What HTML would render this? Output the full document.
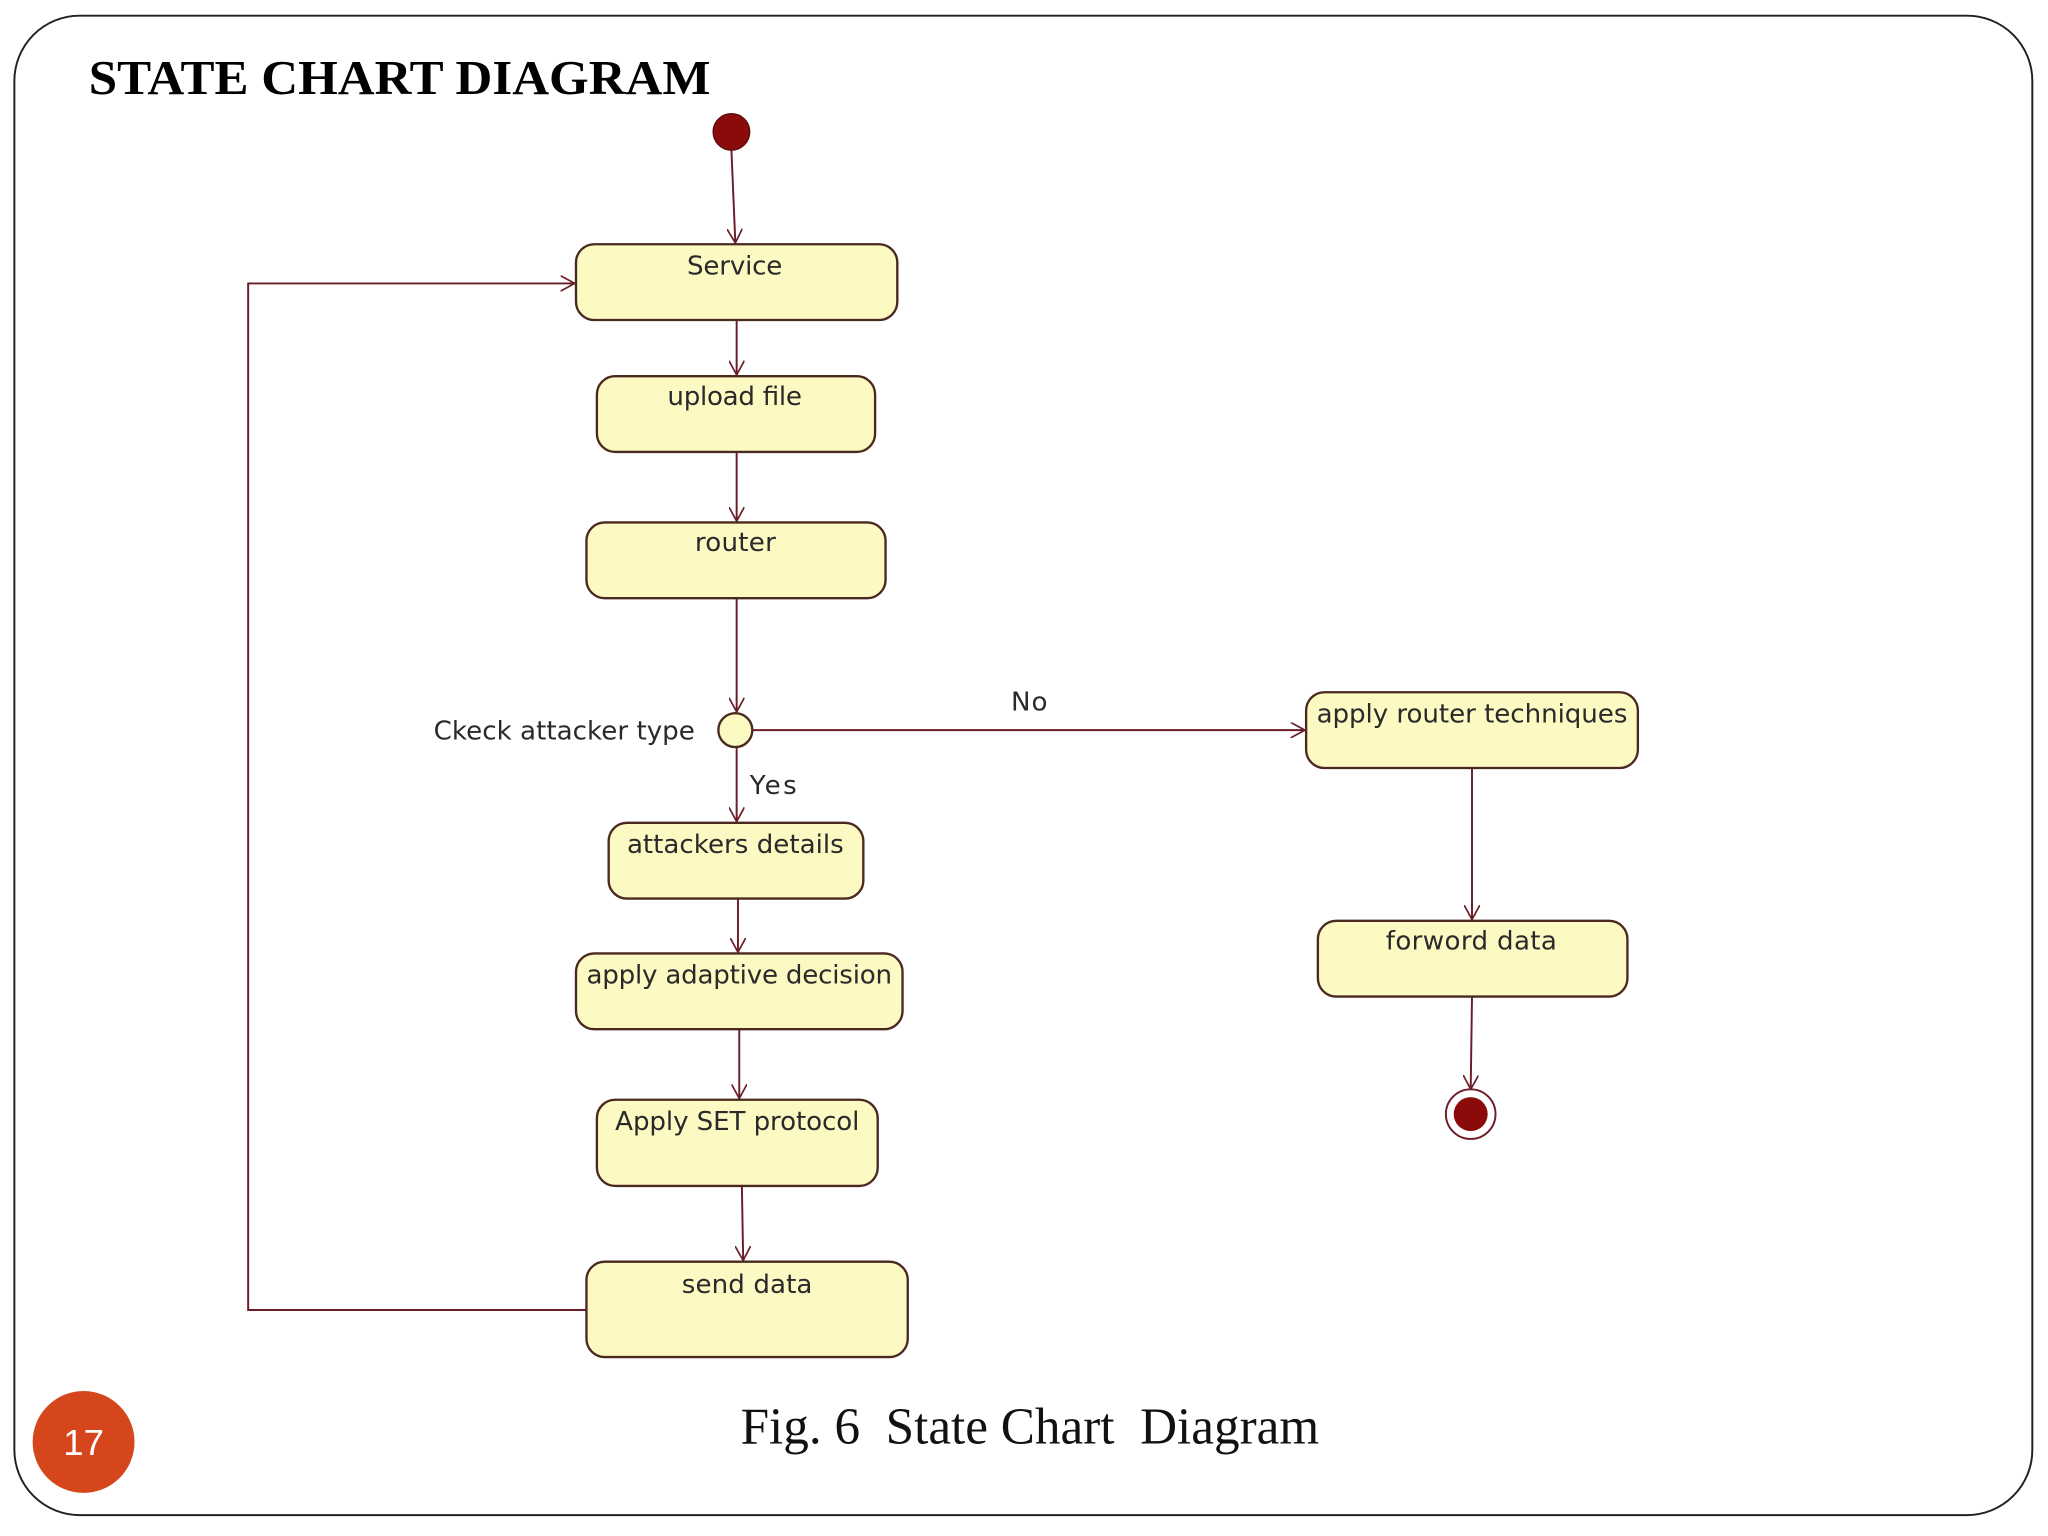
<!DOCTYPE html>
<html><head><meta charset="utf-8"><style>
html,body{margin:0;padding:0;background:#fff;}
svg{display:block;}
</style></head><body>
<svg width="2048" height="1536" viewBox="0 0 1568 1176" preserveAspectRatio="none" xmlns="http://www.w3.org/2000/svg">
<defs>
<marker id="a" viewBox="0 0 12 12" refX="11" refY="6" markerWidth="12" markerHeight="12" markerUnits="userSpaceOnUse" orient="auto">
<path d="M0,0 L11,6 L0,12" fill="none" stroke="#6b1d2a" stroke-width="1.3"/>
</marker>
</defs>
<rect x="11" y="12" width="1545" height="1148" rx="50" ry="50" fill="#fff" stroke="#222" stroke-width="1.5"/>
<text x="68" y="72" font-family="Liberation Serif, serif" font-weight="bold" font-size="37" fill="#000" textLength="476" lengthAdjust="spacingAndGlyphs">STATE CHART DIAGRAM</text>

<g stroke="#6b1d2a" stroke-width="1.5" fill="none">
<line x1="560" y1="115" x2="563" y2="186" marker-end="url(#a)"/>
<line x1="564" y1="245" x2="564" y2="287" marker-end="url(#a)"/>
<line x1="564" y1="346" x2="564" y2="399" marker-end="url(#a)"/>
<line x1="564" y1="458" x2="564" y2="545" marker-end="url(#a)"/>
<line x1="576" y1="559" x2="999" y2="559" marker-end="url(#a)"/>
<line x1="564" y1="572" x2="564" y2="629" marker-end="url(#a)"/>
<line x1="565" y1="688" x2="565" y2="729" marker-end="url(#a)"/>
<line x1="566" y1="788" x2="566" y2="841" marker-end="url(#a)"/>
<line x1="568" y1="908" x2="569" y2="965" marker-end="url(#a)"/>
<line x1="1127" y1="588" x2="1127" y2="704" marker-end="url(#a)"/>
<line x1="1127" y1="763" x2="1126" y2="834" marker-end="url(#a)"/>
<polyline points="449,1003 190,1003 190,217 440,217" marker-end="url(#a)"/>
</g>

<circle cx="560" cy="101" r="14" fill="#8b0a0a" stroke="#5a0a0a"/>

<g fill="#fcf9c2" stroke="#4a2a20" stroke-width="1.8">
<rect x="441" y="187" width="246" height="58" rx="14"/>
<rect x="457" y="288" width="213" height="58" rx="14"/>
<rect x="449" y="400" width="229" height="58" rx="14"/>
<rect x="1000" y="530" width="254" height="58" rx="14"/>
<rect x="1009" y="705" width="237" height="58" rx="14"/>
<rect x="466" y="630" width="195" height="58" rx="14"/>
<rect x="441" y="730" width="250" height="58" rx="14"/>
<rect x="457" y="842" width="215" height="66" rx="14"/>
<rect x="449" y="966" width="246" height="73" rx="14"/>
<circle cx="563" cy="559" r="13"/>
</g>
<circle cx="1126" cy="853" r="19" fill="#fff" stroke="#6b1d2a" stroke-width="1.5"/>
<circle cx="1126" cy="853" r="13" fill="#8b0a0a"/>

<g font-family="DejaVu Sans, Liberation Sans, sans-serif" font-size="20" fill="#2a2a2a" lengthAdjust="spacingAndGlyphs">
<text x="526" y="210" textLength="73">Service</text>
<text x="511" y="310" textLength="103">upload file</text>
<text x="532" y="422" textLength="62">router</text>
<text x="1008" y="553" textLength="238">apply router techniques</text>
<text x="1061" y="727" textLength="131">forword data</text>
<text x="480" y="653" textLength="166">attackers details</text>
<text x="449" y="753" textLength="234">apply adaptive decision</text>
<text x="471" y="865" textLength="187">Apply SET protocol</text>
<text x="522" y="990" textLength="100">send data</text>
<text x="332" y="566" textLength="200">Ckeck attacker type</text>
<text x="774" y="544" textLength="28">No</text>
<text x="574" y="608" textLength="36">Yes</text>
</g>

<text x="567" y="1105" font-family="Liberation Serif, serif" font-size="40" fill="#111" textLength="443" lengthAdjust="spacingAndGlyphs" xml:space="preserve">Fig. 6  State Chart  Diagram</text>

<circle cx="64" cy="1104" r="39" fill="#d5461c"/>
<text x="64" y="1114" font-family="Liberation Sans, sans-serif" font-size="28" fill="#fff" text-anchor="middle">17</text>
</svg>
</body></html>
